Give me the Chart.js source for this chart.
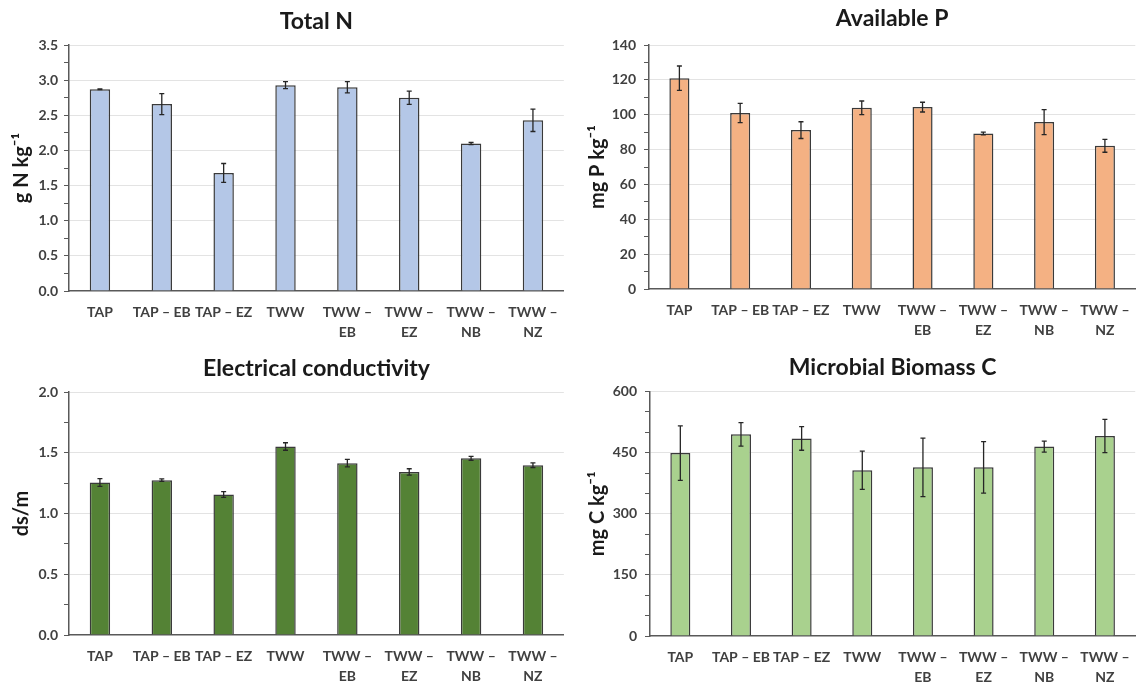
<!DOCTYPE html>
<html>
<head>
<meta charset="utf-8">
<script src="https://cdn.jsdelivr.net/npm/chart.js@4.4.1/dist/chart.umd.min.js"></script>
<style>
  html, body { margin: 0; padding: 0; background: #ffffff; }
  body { width: 1142px; height: 682px; position: relative; overflow: hidden; }
  canvas { position: absolute; }
</style>
</head>
<body>
<canvas id="c1" width="570" height="340" style="left:0;top:0"></canvas>
<canvas id="c2" width="572" height="340" style="left:570px;top:0"></canvas>
<canvas id="c3" width="570" height="342" style="left:0;top:340px"></canvas>
<canvas id="c4" width="572" height="342" style="left:570px;top:340px"></canvas>
<script>
// ---------- DATA ----------
const categories = ['TAP', 'TAP – EB', 'TAP – EZ', 'TWW', ['TWW –', 'EB'], ['TWW –', 'EZ'], ['TWW –', 'NB'], ['TWW –', 'NZ']];

const totalN    = [2.87, 2.66, 1.68, 2.93, 2.90, 2.75, 2.10, 2.43];
const totalNErr = [0.005, 0.15, 0.135, 0.05, 0.08, 0.095, 0.015, 0.16];

const availP    = [121.0, 101.0, 91.2, 104.0, 104.4, 89.3, 95.8, 82.2];
const availPErr = [7.0, 5.5, 4.8, 3.9, 2.8, 0.8, 7.2, 3.7];

const ec        = [1.255, 1.275, 1.157, 1.552, 1.415, 1.343, 1.455, 1.398];
const ecErr     = [0.032, 0.01, 0.023, 0.031, 0.031, 0.026, 0.016, 0.019];

const mbc       = [449, 495, 485, 407, 414, 414, 465, 491];
const mbcErr    = [67, 29, 29, 47, 72, 63, 13.5, 41];

const titles = ['Total N', 'Available P', 'Electrical conductivity', 'Microbial Biomass C'];
const yTitles = ['g N kg\u207B\u00B9', 'mg P kg\u207B\u00B9', 'ds/m', 'mg C kg\u207B\u00B9'];
const yMax = [3.5, 140, 2.0, 600];
const yMajor = [0.5, 20, 0.5, 150];
const yMinor = [0.25, 10, 0.25, 50];
const yDecimals = [1, 0, 1, 0];

// ---------- STYLE ----------
const FONT = 'Lato, "Open Sans", sans-serif';
const fills = ['#b4c7e7', '#f4b183', '#548235', '#a9d18e'];
const edge = '#3a3a3a';

const errorBars = {
  id: 'errorBars',
  afterDatasetsDraw(chart) {
    const ctx = chart.ctx;
    const ys = chart.scales.y;
    chart.data.datasets.forEach((ds, di) => {
      const meta = chart.getDatasetMeta(di);
      meta.data.forEach((el, i) => {
        const v = ds.data[i], e = ds.errors[i];
        const yt = ys.getPixelForValue(v + e);
        const yb = ys.getPixelForValue(v - e);
        ctx.save();
        ctx.strokeStyle = '#262626';
        ctx.lineWidth = 1.3;
        ctx.beginPath();
        ctx.moveTo(el.x, yt); ctx.lineTo(el.x, yb);
        ctx.moveTo(el.x - 2.5, yt); ctx.lineTo(el.x + 2.5, yt);
        ctx.moveTo(el.x - 2.5, yb); ctx.lineTo(el.x + 2.5, yb);
        ctx.stroke();
        ctx.restore();
      });
    });
  }
};

// layout per panel: y-axis width, x-axis height, title padding, right pad, y-title padding
const layouts = [
  { yW: 69, xH: 49, tTop: 8,  tBot: 9.5, right: 3, ytPad: 10, tickPad: 6 },
  { yW: 79, xH: 51, tTop: 4.5, tBot: 13, right: 0, ytPad: 16, tickPad: 8 },
  { yW: 69, xH: 47, tTop: 15, tBot: 9.5, right: 3, ytPad: 10, tickPad: 6 },
  { yW: 80, xH: 46, tTop: 14, tBot: 10, right: 0, ytPad: 16, tickPad: 8 }
];

function isMajor(v, major) {
  const r = v / major;
  return Math.abs(r - Math.round(r)) < 1e-6;
}

function makeChart(id, k, values, errs) {
  const L = layouts[k];
  return new Chart(document.getElementById(id), {
    type: 'bar',
    data: {
      labels: categories,
      datasets: [{
        data: values,
        errors: errs,
        backgroundColor: fills[k],
        borderColor: edge,
        borderWidth: 1.5,
        categoryPercentage: 1.0,
        barPercentage: 0.33
      }]
    },
    options: {
      responsive: false,
      animation: false,
      events: [],
      layout: { padding: { left: 0, right: L.right, top: 0, bottom: 0 } },
      plugins: {
        legend: { display: false },
        tooltip: { enabled: false },
        title: {
          display: true,
          fullSize: false,
          text: titles[k],
          color: '#1a1a1a',
          font: { family: FONT, size: 23, weight: 'bold', lineHeight: 1.2 },
          padding: { top: L.tTop, bottom: L.tBot }
        }
      },
      scales: {
        x: {
          grid: { display: false, drawTicks: false },
          border: { display: true, color: '#595959', width: 1.5 },
          ticks: {
            color: '#404040',
            font: { family: FONT, size: 14, weight: 'bold', lineHeight: 1.4 },
            padding: 12,
            maxRotation: 0,
            autoSkip: false
          },
          afterFit(scale) { scale.height = L.xH; }
        },
        y: {
          min: 0,
          max: yMax[k],
          grid: {
            color: (c) => (c.tick && isMajor(c.tick.value, yMajor[k]) && c.tick.value !== 0) ? '#e3e3e3' : 'rgba(0,0,0,0)',
            lineWidth: 1,
            drawTicks: true,
            tickLength: 5,
            tickColor: '#595959',
            tickWidth: 1
          },
          border: { display: true, color: '#595959', width: 1.5 },
          ticks: {
            stepSize: yMinor[k],
            autoSkip: false,
            color: '#404040',
            font: { family: FONT, size: 14, weight: 'bold' },
            padding: L.tickPad,
            callback: (v) => isMajor(v, yMajor[k]) ? Number(v).toFixed(yDecimals[k]) : ''
          },
          title: {
            display: true,
            text: yTitles[k],
            color: '#1a1a1a',
            font: { family: FONT, size: 20, weight: 'bold', lineHeight: 1.2 },
            padding: { top: L.ytPad, bottom: 0 }
          },
          afterFit(scale) { scale.width = L.yW; }
        }
      }
    },
    plugins: [errorBars]
  });
}

makeChart('c1', 0, totalN, totalNErr);
makeChart('c2', 1, availP, availPErr);
makeChart('c3', 2, ec, ecErr);
makeChart('c4', 3, mbc, mbcErr);
</script>
</body>
</html>
